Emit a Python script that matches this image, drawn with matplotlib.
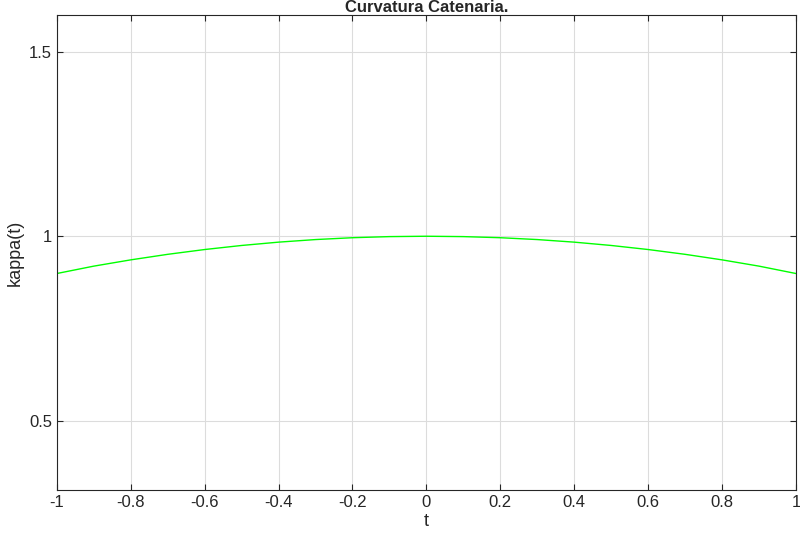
import matplotlib
matplotlib.use("Agg")
import matplotlib.pyplot as plt

plt.rcParams['font.family'] = ['Liberation Sans', 'DejaVu Sans']

t = [-1.0, -0.9, -0.8, -0.7, -0.6, -0.5, -0.4, -0.3, -0.2, -0.1, 0.0,
     0.1, 0.2, 0.3, 0.4, 0.5, 0.6, 0.7, 0.8, 0.9, 1.0]
kappa = [0.899, 0.919, 0.936, 0.951, 0.964, 0.975, 0.984, 0.991, 0.996, 0.999, 1.0,
         0.999, 0.996, 0.991, 0.984, 0.975, 0.964, 0.951, 0.936, 0.919, 0.899]
xticks = [-1, -0.8, -0.6, -0.4, -0.2, 0, 0.2, 0.4, 0.6, 0.8, 1]
xticklabels = ['-1', '-0.8', '-0.6', '-0.4', '-0.2', '0', '0.2', '0.4', '0.6', '0.8', '1']
yticks = [0.5, 1, 1.5]
yticklabels = ['0.5', '1', '1.5']

fig = plt.figure(figsize=(8, 5.37), dpi=100)
ax = fig.add_axes([0.071, 0.0875, 0.924, 0.885])
ax.plot(t, kappa, color='#00ff00', lw=1)
ax.set_xlim(-1, 1)
ax.set_ylim(0.3125, 1.6)
ax.set_xticks(xticks, xticklabels)
ax.set_yticks(yticks, yticklabels)
ax.grid(True, color='#dcdcdc', lw=0.8)
ax.tick_params(direction='in', labelsize=12, colors='#262626', length=4, top=True, right=True)
for s in ax.spines.values():
    s.set_color('#262626'); s.set_linewidth(0.8)
ax.set_xlabel('t', fontsize=13, color='#262626', labelpad=2)
ax.set_ylabel('kappa(t)', fontsize=13, color='#262626', labelpad=4)
ax.set_title('Curvatura Catenaria.', fontsize=12, fontweight='bold', color='#262626', pad=2)
fig.savefig('out.png', dpi=100)
